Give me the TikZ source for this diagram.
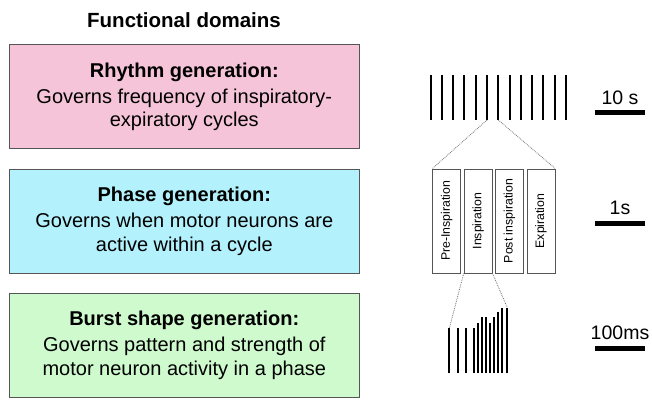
\documentclass[tikz,border=0pt]{standalone}
\usepackage{fontspec}
\setmainfont{Liberation Sans}
\usetikzlibrary{positioning}
\definecolor{rhythmpink}{RGB}{245,196,216}
\definecolor{phasecyan}{RGB}{179,242,252}
\definecolor{burstgreen}{RGB}{206,250,206}
\definecolor{edgegray}{RGB}{85,85,85}
\tikzset{
  base/.style={font=\fontsize{20}{23.5}\selectfont, align=center, inner sep=2pt, outer sep=0mm},
  domainbox/.style={rectangle, draw=edgegray, line width=0.9pt, minimum width=350pt, minimum height=104pt, base},
  phasebox/.style={rectangle, draw=edgegray, line width=0.8pt, fill=white, minimum width=28pt, minimum height=104pt, inner sep=0pt, font=\fontsize{12.3}{14}\selectfont},
  spike/.style={line width=2pt},
  zoomline/.style={densely dotted, black!55, line width=0.8pt},
  scalebar/.style={rectangle, fill=black, minimum width=50pt, minimum height=5pt, inner sep=0pt},
  barlabel/.style={font=\fontsize{19.5}{22}\selectfont, inner sep=0pt}
}

\begin{document}
\begin{tikzpicture}[x=1pt, y=-1pt, node distance=20pt]
  \useasboundingbox (0,0) rectangle (652,399);

  % functional domains
  \node[font=\bfseries\fontsize{20.5}{24}\selectfont, inner sep=0pt] (title) at (184,20.2) {Functional domains};
  \node[domainbox, fill=rhythmpink] (rhythm) at (184.3,96.8) {\textbf{Rhythm generation:}\\[2.5pt] Governs frequency of inspiratory-\\expiratory cycles};
  \node[domainbox, fill=phasecyan, below=20.5pt of rhythm] (phase) {\textbf{Phase generation:}\\[2.5pt] Governs when motor neurons are\\active within a cycle};
  \node[domainbox, fill=burstgreen, below=of phase] (burst) {\textbf{Burst shape generation:}\\[2.5pt] Governs pattern and strength of\\motor neuron activity in a phase};

  % rhythm trace
  \foreach \i in {1,...,13}
    \draw[spike] ({419.4+11.27*\i},75) coordinate (rt\i) -- ++(0,45) coordinate (rb\i);

  % phases
  \node[phasebox] (pre) at (446.7,221) {\rotatebox{90}{Pre-Inspiration}};
  \node[phasebox, right=2.6pt of pre] (insp) {\rotatebox{90}{Inspiration}};
  \node[phasebox, right=2.6pt of insp] (post) {\rotatebox{90}{Post inspiration}};
  \node[phasebox, right=2.6pt of post] (exp) {\rotatebox{90}{Expiration}};

  % burst trace
  \foreach \x/\top [count=\i] in {449.3/328.3, 457.7/328.3, 465.7/328.3, 473.7/328.3, 477.7/323.3, 481.7/316.7,
      485.7/316.7, 489.7/323.3, 493.7/316.7, 498/312.3, 502/307.7, 507.3/307.7}
    \draw[spike] (\x,373.3) -- (\x,\top) coordinate (bt\i);

  \draw[zoomline] (rb6) -- (pre.north west);
  \draw[zoomline] (rb7) -- (exp.north east);
  \draw[zoomline] (insp.south west) -- (bt1);
  \draw[zoomline] (insp.south east) -- (bt12);

  % scale bars
  \node[scalebar] (bar10) at (620,112.5) {};
  \node[barlabel, above=5pt of bar10] (lab10) {10 s};
  \node[scalebar] (bar1) at (620,223.5) {};
  \node[barlabel, above=6pt of bar1] (lab1) {1s};
  \node[scalebar] (bar100) at (620,348) {};
  \node[barlabel, above=5pt of bar100] (lab100) {100ms};
\end{tikzpicture}
\end{document}
